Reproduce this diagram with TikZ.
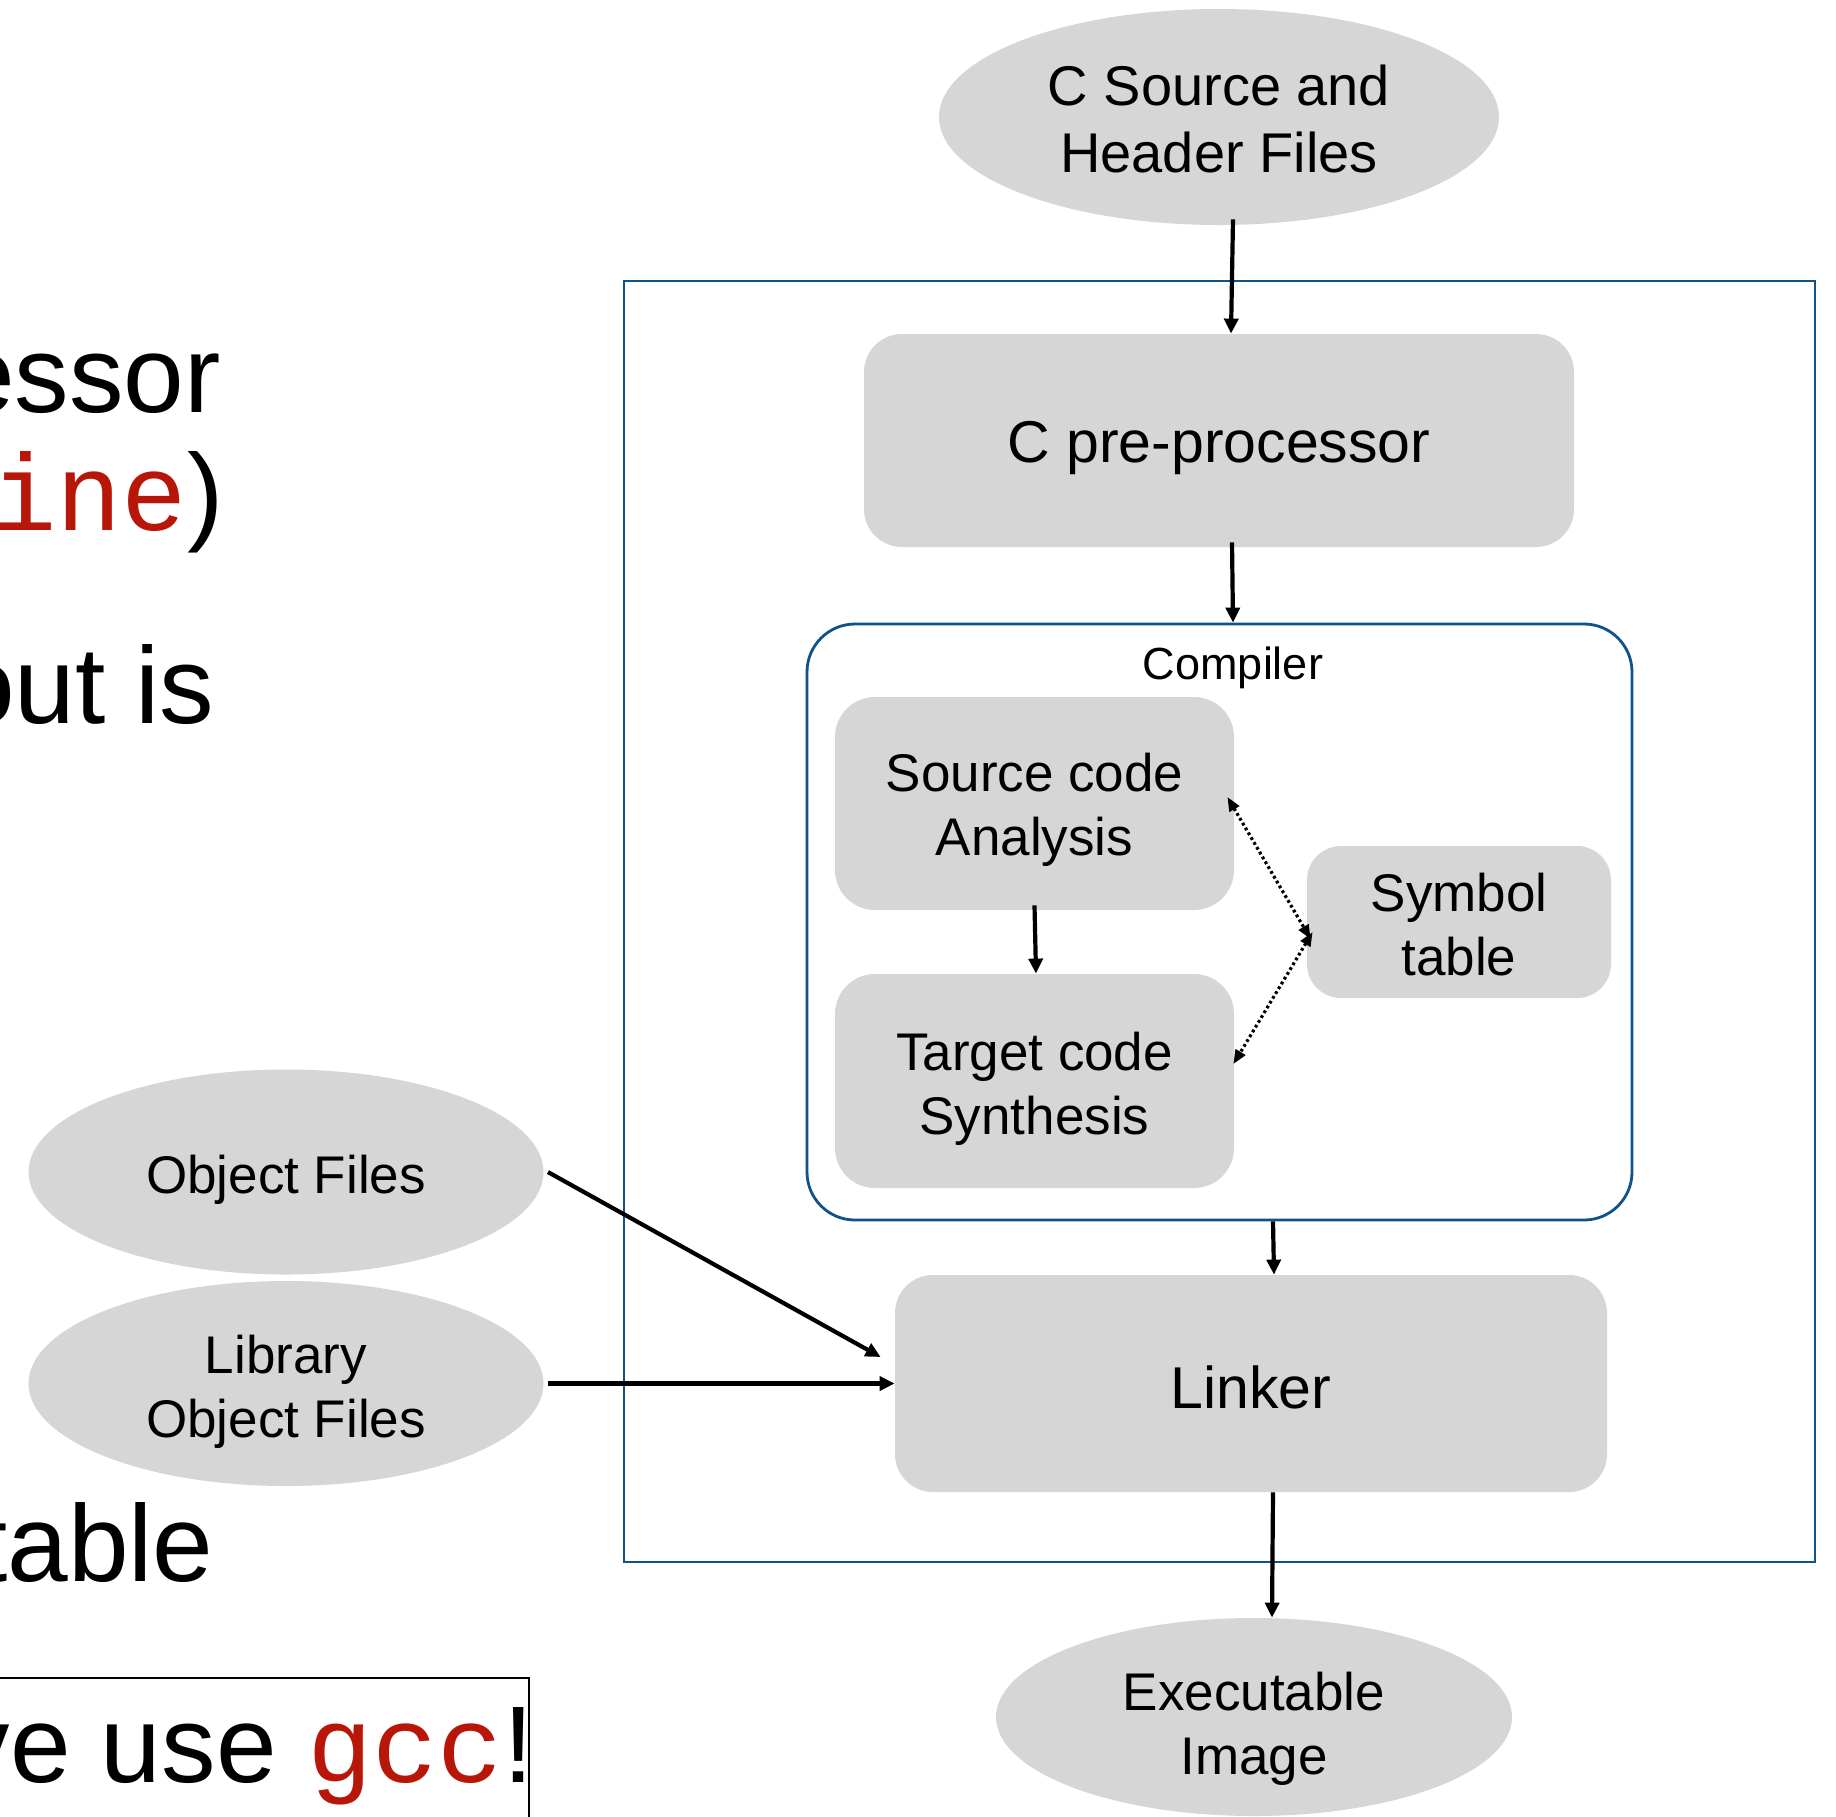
\documentclass[tikz,border=0pt]{standalone}
\usepackage{fontspec}
\setmainfont{Liberation Sans}
\setmonofont{Liberation Mono}
\usetikzlibrary{shapes.geometric,arrows.meta}
\definecolor{boxgray}{RGB}{214,214,214}
\definecolor{cblue}{RGB}{16,82,138}
\definecolor{cred}{RGB}{185,22,10}
\newcommand\myNodeFont{\fontsize{26.5}{32}\selectfont}
\newcommand\mySrcFont{\fontsize{28}{33.5}\selectfont}
\newcommand\myBigNodeFont{\fontsize{29.5}{35}\selectfont}
\newcommand\myHugeFont{\fontsize{54.5}{65}\selectfont}
\newcommand\myCode[1]{{\ttfamily\color{cred}#1}}
\tikzset{
  gbox/.style={rectangle, rounded corners=19pt, fill=boxgray, draw=none, inner sep=0pt},
  gell/.style={ellipse, fill=boxgray, draw=none, inner sep=0pt},
  lab/.style={align=center, inner sep=0pt, font=\myNodeFont},
  bluebox/.style={draw=cblue, line width=1.4pt, fill=none, inner sep=0pt},
  arr/.style={-{Triangle[length=7.5pt,width=7pt]}, line width=2.1pt, black},
  darr/.style={{Triangle[length=7pt,width=5.5pt]}-{Triangle[length=7pt,width=5.5pt]}, line width=1.6pt, dash pattern=on 1.4pt off 1.4pt, black},
  bigtxt/.style={anchor=base east, inner sep=0pt, font=\myHugeFont},
}
\begin{document}
\begin{tikzpicture}[x=0.5pt,y=-0.5pt]
\useasboundingbox (0,0) rectangle (1836,1816);
\clip (0,0) rectangle (1836,1816);
\fill[white] (0,0) rectangle (1836,1816);

% left slide text (cut off)
\node[bigtxt] (t1) at (221,412) {essor};
\node[bigtxt] (t2) at (224,530) {\myCode{ine})};
\node[bigtxt] (t3) at (215,723) {out is};
\node[bigtxt] (t4) at (214,1581) {table};
\node[bigtxt] (t5) at (534,1782) {ve use \myCode{gcc}!};
\draw[line width=1.25pt, black] (-50,1678) -- (529,1678) -- (529,1900);

% containers
\node[bluebox, rectangle, minimum width=595.5pt, minimum height=640.5pt] (outer) at (1219.5,921.5) {};
\node[bluebox, rectangle, rounded corners=24pt, minimum width=412.5pt, minimum height=298pt] (comp) at (1219.5,922) {};
\node[anchor=base, inner sep=0pt, font=\fontsize{22.5}{27}\selectfont] (complbl) at (1233,679) {Compiler};

% nodes
\node[gell, minimum width=280pt, minimum height=108pt,
      label={[lab, name=srcT, font=\mySrcFont, yshift=-1.2pt]center:C Source and\\Header Files}] (src) at (1219,117) {};
\node[gbox, minimum width=355pt, minimum height=106.5pt,
      label={[lab, name=preT, font=\myBigNodeFont, yshift=-4pt]center:C pre-processor}] (pre) at (1219,440.5) {};
\node[gbox, rounded corners=20pt, minimum width=199.5pt, minimum height=106.5pt,
      label={[lab, name=scaT, yshift=-3pt]center:Source code\\Analysis}] (sca) at (1034.5,803.5) {};
\node[gbox, rounded corners=20pt, minimum width=199.5pt, minimum height=107pt,
      label={[lab, name=tcsT, yshift=-4pt]center:Target code\\Synthesis}] (tcs) at (1034.5,1081) {};
\node[gbox, rounded corners=17pt, minimum width=152pt, minimum height=76pt,
      label={[lab, name=symT, yshift=-1.2pt]center:Symbol\\table}] (sym) at (1459,922) {};
\node[gbox, minimum width=356pt, minimum height=108.5pt,
      label={[lab, name=linkerT, font=\myBigNodeFont, yshift=-1.75pt]center:Linker}] (linker) at (1251,1383.5) {};
\node[gell, minimum width=258pt, minimum height=99pt,
      label={[lab, name=exeT, yshift=-5.8pt]center:Executable\\Image}] (exe) at (1254,1717) {};
\node[gell, minimum width=257.5pt, minimum height=102.5pt,
      label={[lab, name=objT, yshift=-4pt]center:Object Files}] (obj) at (286,1172) {};
\node[gell, minimum width=257.5pt, minimum height=102.5pt,
      label={[lab, name=libT, yshift=-4pt]center:Library\\Object Files}] (lib) at (286,1383.5) {};

% connectors
\draw[arr] ([xshift=7pt,yshift=3pt]src.south) -- ([xshift=6pt]pre.north);
\draw[arr] ([xshift=6.5pt,yshift=2.5pt]pre.south) -- ([xshift=6.75pt]comp.north);
\draw[arr] ([yshift=2.5pt]sca.south) -- ([xshift=0.75pt]tcs.north);
\draw[arr] ([xshift=26.75pt]comp.south) -- ([xshift=11.5pt]linker.north);
\draw[arr] ([xshift=11pt]linker.south) -- ([xshift=9pt]exe.north);
\draw[arr] ([xshift=2pt]obj.east) -- ([shift={(-7pt,13.25pt)}]linker.west);
\draw[arr] ([xshift=2pt]lib.east) -- (linker.west);
\draw[darr] ([shift={(-3.5pt,3.25pt)}]sca.east) -- ([shift={(2pt,-8.5pt)}]sym.west);
\draw[darr] ([shift={(3pt,-5pt)}]sym.west) -- ([shift={(-0.5pt,8.5pt)}]tcs.east);
\end{tikzpicture}
\end{document}
